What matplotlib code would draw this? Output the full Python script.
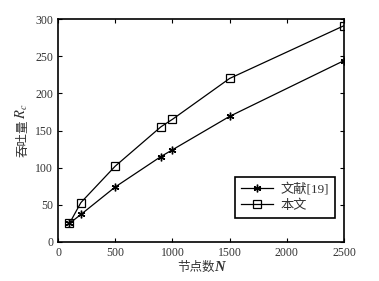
import numpy as np
import matplotlib
matplotlib.use('Agg')
from matplotlib import pyplot as plt

plt.rcParams['font.family'] = ['Liberation Serif', 'Noto Sans CJK SC']
plt.rcParams['mathtext.fontset'] = 'stix'

nodes = [100, 200, 500, 900, 1000, 1500, 2500]
ref19 = [25, 37, 74, 115, 124, 169, 244]
ours = [25, 53, 102, 155, 165, 220, 291]
labels = ['文献[19]', '本文']

W, H = 379, 281
fig = plt.figure(figsize=(W/100, H/100), dpi=100)
ax = fig.add_axes([58/W, 1 - 242/H, (344-58)/W, (242-19)/H])

ax.plot(nodes, ref19, '-', color='k', lw=0.9, marker=(6, 2, 0), ms=5.5, mew=1.0,
        label=labels[0])
ax.plot(nodes, ours, '-', color='k', lw=0.9, marker='s', ms=5.5, mfc='none', mew=0.9,
        label=labels[1])

ax.set_xlim(0, 2500)
ax.set_ylim(0, 300)
ax.set_xticks([0, 500, 1000, 1500, 2000, 2500])
ax.set_yticks([0, 50, 100, 150, 200, 250, 300])
ax.tick_params(direction='in', length=3, labelsize=8.5, colors='k', labelcolor='#333333',
               top=True, right=True)
for s in ax.spines.values():
    s.set_linewidth(1.2)

leg = ax.legend(loc='lower right', bbox_to_anchor=(0.969, 0.108), borderaxespad=0,
                fontsize=9.5, fancybox=False, framealpha=1, edgecolor='k',
                handlelength=2.4, handletextpad=0.6, borderpad=0.45, labelspacing=0.3)
leg.get_frame().set_linewidth(1.2)
for t in leg.get_texts():
    t.set_color('#333333')

# axis labels: chinese part + latin part, laid out by hand
c = '#333333'
fig.canvas.draw()
r = fig.canvas.get_renderer()

xa = fig.text(0, 0, '节点数', fontsize=9, color=c, va='baseline', ha='left')
xb = fig.text(0, 0, 'N', fontsize=10.5, color=c, va='baseline', ha='left',
              family='Liberation Serif', fontweight='bold', fontstyle='italic')
wa = xa.get_window_extent(r).width
wb = xb.get_window_extent(r).width
x0 = (58 + 344) / 2 - (wa + wb) / 2
xa.set_position((x0 / W, 1 - 271 / H))
xb.set_position(((x0 + wa) / W, 1 - 271 / H))

ya = fig.text(0, 0, '吞吐量', fontsize=9, color=c, rotation=90, va='bottom', ha='left',
              rotation_mode='anchor')
yb = fig.text(0, 0, '$R_c$', fontsize=10.5, color=c, rotation=90, va='bottom', ha='left',
              rotation_mode='anchor')
ha_ = ya.get_window_extent(r).height
hb = yb.get_window_extent(r).height
y0 = (19 + 242) / 2 + (ha_ + hb) / 2
ya.set_position((30 / W, 1 - y0 / H))
yb.set_position((30 / W, 1 - (y0 - ha_) / H))

fig.savefig('out.png', dpi=100)
